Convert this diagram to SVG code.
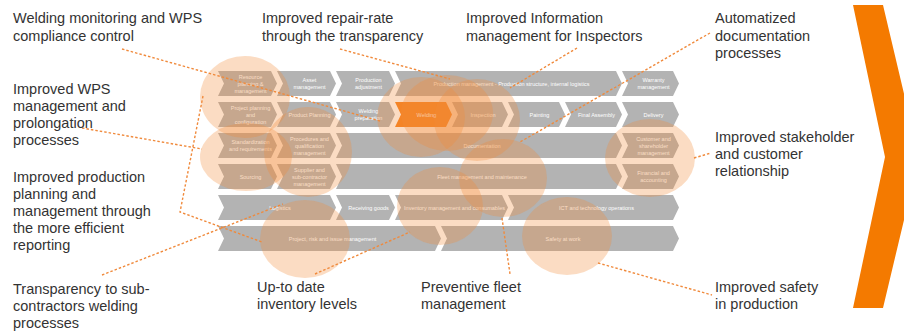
<svg xmlns="http://www.w3.org/2000/svg" width="904" height="333" viewBox="0 0 904 333">
<style>
.ch{fill:#B3B3B3}
.chw{fill:#F5821F}
.ct{font-family:"Liberation Sans",Arial,sans-serif;font-size:5.5px;fill:#FFFFFF;text-anchor:middle}
.hl{fill:#F28C38;fill-opacity:0.3}
.cn{fill:none;stroke:#F08A3C;stroke-width:1.4;stroke-dasharray:2.5 2}
.lb{font-family:"Liberation Sans",Arial,sans-serif;font-size:14.5px;fill:#333333}
</style>
<rect width="904" height="333" fill="#FFFFFF"/>

<g id="chevrons">
  <!-- Row 1 -->
  <g id="resource-planning"><path class="ch" d="M218,71 L271,71 L277,83.5 L271,96 L218,96 L224,83.5Z"/>
    <text class="ct" x="250.5" y="78.5">Resource<tspan x="250.5" dy="7">planning &amp;</tspan><tspan x="250.5" dy="7">management</tspan></text></g>
  <g id="asset-management"><path class="ch" d="M277,71 L330,71 L336,83.5 L330,96 L277,96 L283,83.5Z"/>
    <text class="ct" x="309.5" y="82">Asset<tspan x="309.5" dy="7">management</tspan></text></g>
  <g id="production-adjustment"><path class="ch" d="M336,71 L389,71 L395,83.5 L389,96 L336,96 L342,83.5Z"/>
    <text class="ct" x="368.5" y="82">Production<tspan x="368.5" dy="7">adjustment</tspan></text></g>
  <g id="production-management"><path class="ch" d="M395,71 L616,71 L622,83.5 L616,96 L395,96 L401,83.5Z"/>
    <text class="ct" x="511.5" y="85.5">Production management - Production structure, internal logistics</text></g>
  <g id="warranty-management"><path class="ch" d="M622,71 L673,71 L679,83.5 L673,96 L622,96 L628,83.5Z"/>
    <text class="ct" x="653.5" y="82">Warranty<tspan x="653.5" dy="7">management</tspan></text></g>
  <!-- Row 2 -->
  <g id="project-planning"><path class="ch" d="M218,102 L271,102 L277,114.5 L271,127 L218,127 L224,114.5Z"/>
    <text class="ct" x="250.5" y="109.5">Project planning<tspan x="250.5" dy="7">and</tspan><tspan x="250.5" dy="7">configuration</tspan></text></g>
  <g id="product-planning"><path class="ch" d="M277,102 L330,102 L336,114.5 L330,127 L277,127 L283,114.5Z"/>
    <text class="ct" x="309.5" y="116.5">Product Planning</text></g>
  <g id="welding-preparation"><path class="ch" d="M336,102 L389,102 L395,114.5 L389,127 L336,127 L342,114.5Z"/>
    <text class="ct" x="368.5" y="113">Welding<tspan x="368.5" dy="7">preparation</tspan></text></g>
  <g id="welding"><path class="chw" d="M395,102 L446,102 L452,114.5 L446,127 L395,127 L401,114.5Z"/>
    <text class="ct" x="426.5" y="116.5">Welding</text></g>
  <g id="inspection"><path class="ch" d="M452,102 L502,102 L508,114.5 L502,127 L452,127 L458,114.5Z"/>
    <text class="ct" x="483" y="116.5">Inspection</text></g>
  <g id="painting"><path class="ch" d="M508,102 L559,102 L565,114.5 L559,127 L508,127 L514,114.5Z"/>
    <text class="ct" x="539.5" y="116.5">Painting</text></g>
  <g id="final-assembly"><path class="ch" d="M565,102 L616,102 L622,114.5 L616,127 L565,127 L571,114.5Z"/>
    <text class="ct" x="596.5" y="116.5">Final Assembly</text></g>
  <g id="delivery"><path class="ch" d="M622,102 L673,102 L679,114.5 L673,127 L622,127 L628,114.5Z"/>
    <text class="ct" x="653.5" y="116.5">Delivery</text></g>
  <!-- Row 3 -->
  <g id="standardization"><path class="ch" d="M218,133 L271,133 L277,145.5 L271,158 L218,158 L224,145.5Z"/>
    <text class="ct" x="250.5" y="144">Standardization<tspan x="250.5" dy="7">and requirements</tspan></text></g>
  <g id="procedures"><path class="ch" d="M277,133 L330,133 L336,145.5 L330,158 L277,158 L283,145.5Z"/>
    <text class="ct" x="309.5" y="140.5">Procedures and<tspan x="309.5" dy="7">qualification</tspan><tspan x="309.5" dy="7">management</tspan></text></g>
  <g id="documentation"><path class="ch" d="M336,133 L616,133 L622,145.5 L616,158 L336,158 L342,145.5Z"/>
    <text class="ct" x="482" y="147.5">Documentation</text></g>
  <g id="customer-management"><path class="ch" d="M622,133 L673,133 L679,145.5 L673,158 L622,158 L628,145.5Z"/>
    <text class="ct" x="653.5" y="140.5">Customer and<tspan x="653.5" dy="7">shareholder</tspan><tspan x="653.5" dy="7">management</tspan></text></g>
  <!-- Row 4 -->
  <g id="sourcing"><path class="ch" d="M218,164 L271,164 L277,176.5 L271,189 L218,189 L224,176.5Z"/>
    <text class="ct" x="250.5" y="178.5">Sourcing</text></g>
  <g id="supplier-management"><path class="ch" d="M277,164 L330,164 L336,176.5 L330,189 L277,189 L283,176.5Z"/>
    <text class="ct" x="309.5" y="171.5">Supplier and<tspan x="309.5" dy="7">sub-contractor</tspan><tspan x="309.5" dy="7">management</tspan></text></g>
  <g id="fleet-management"><path class="ch" d="M336,164 L616,164 L622,176.5 L616,189 L336,189 L342,176.5Z"/>
    <text class="ct" x="482" y="178.5">Fleet management and maintenance</text></g>
  <g id="financial-accounting"><path class="ch" d="M622,164 L673,164 L679,176.5 L673,189 L622,189 L628,176.5Z"/>
    <text class="ct" x="653.5" y="175">Financial and<tspan x="653.5" dy="7">accounting</tspan></text></g>
  <!-- Row 5 -->
  <g id="logistics"><path class="ch" d="M218,195 L330,195 L336,207.5 L330,220 L218,220 L224,207.5Z"/>
    <text class="ct" x="280" y="209.5">Logistics</text></g>
  <g id="receiving-goods"><path class="ch" d="M336,195 L389,195 L395,207.5 L389,220 L336,220 L342,207.5Z"/>
    <text class="ct" x="368.5" y="209.5">Receiving goods</text></g>
  <g id="inventory-management"><path class="ch" d="M395,195 L502,195 L508,207.5 L502,220 L395,220 L401,207.5Z"/>
    <text class="ct" x="454.5" y="209.5">Inventory management and consumables</text></g>
  <g id="ict-operations"><path class="ch" d="M508,195 L673,195 L679,207.5 L673,220 L508,220 L514,207.5Z"/>
    <text class="ct" x="596.5" y="209.5">ICT and technology operations</text></g>
  <!-- Row 6 -->
  <g id="project-risk"><path class="ch" d="M218,226 L435,226 L441,238.5 L435,251 L218,251 L224,238.5Z"/>
    <text class="ct" x="332.5" y="240.5">Project, risk and issue management</text></g>
  <g id="safety-at-work"><path class="ch" d="M441,226 L673,226 L679,238.5 L673,251 L441,251 L447,238.5Z"/>
    <text class="ct" x="563" y="240.5">Safety at work</text></g>
</g>

<g id="highlights">
  <ellipse class="hl" cx="245" cy="97" rx="45" ry="41"/>
  <ellipse class="hl" cx="246" cy="157" rx="46" ry="34"/>
  <ellipse class="hl" cx="308" cy="152" rx="44" ry="45"/>
  <ellipse class="hl" cx="305" cy="239" rx="45" ry="39"/>
  <ellipse class="hl" cx="421" cy="117" rx="44" ry="40"/>
  <ellipse class="hl" cx="447" cy="113" rx="46" ry="38"/>
  <ellipse class="hl" cx="477" cy="120" rx="43" ry="41"/>
  <ellipse class="hl" cx="503" cy="178" rx="44" ry="39"/>
  <ellipse class="hl" cx="440" cy="206" rx="43" ry="39"/>
  <ellipse class="hl" cx="650" cy="158" rx="45" ry="39"/>
  <ellipse class="hl" cx="567" cy="236" rx="45" ry="39"/>
</g>

<g id="connectors">
  <polyline class="cn" points="122,49 380,121"/>
  <polyline class="cn" points="340,49 450,79"/>
  <polyline class="cn" points="577,48 510,88"/>
  <polyline class="cn" points="710,33 520,142"/>
  <polyline class="cn" points="82,128 202,149"/>
  <polyline class="cn" points="203,96 180,212 262,242"/>
  <polyline class="cn" points="102,275 283,204"/>
  <polyline class="cn" points="315,274 410,232"/>
  <polyline class="cn" points="502,218 510,274"/>
  <polyline class="cn" points="598,263 712,295"/>
  <polyline class="cn" points="694,158 711,153"/>
</g>

<g id="label-welding-monitoring"><text class="lb" x="13" y="23">Welding monitoring and WPS<tspan x="13" dy="18">compliance control</tspan></text></g>
<g id="label-repair-rate"><text class="lb" x="262" y="23">Improved repair-rate<tspan x="262" dy="18">through the transparency</tspan></text></g>
<g id="label-information"><text class="lb" x="466" y="23">Improved Information<tspan x="466" dy="18">management for Inspectors</tspan></text></g>
<g id="label-documentation"><text class="lb" x="715" y="23">Automatized<tspan x="715" dy="17.5">documentation</tspan><tspan x="715" dy="17.5">processes</tspan></text></g>
<g id="label-wps"><text class="lb" x="13" y="94">Improved WPS<tspan x="13" dy="17">management and</tspan><tspan x="13" dy="17">prolongation</tspan><tspan x="13" dy="17">processes</tspan></text></g>
<g id="label-production-planning"><text class="lb" x="13" y="182">Improved production<tspan x="13" dy="17">planning and</tspan><tspan x="13" dy="17">management through</tspan><tspan x="13" dy="17">the more efficient</tspan><tspan x="13" dy="17">reporting</tspan></text></g>
<g id="label-subcontractors"><text class="lb" x="13" y="294">Transparency to sub-<tspan x="13" dy="17">contractors welding</tspan><tspan x="13" dy="17">processes</tspan></text></g>
<g id="label-inventory"><text class="lb" x="257" y="292">Up-to date<tspan x="257" dy="17">inventory levels</tspan></text></g>
<g id="label-fleet"><text class="lb" x="421" y="292">Preventive fleet<tspan x="421" dy="17">management</tspan></text></g>
<g id="label-safety"><text class="lb" x="715" y="292">Improved safety<tspan x="715" dy="17">in production</tspan></text></g>
<g id="label-stakeholder"><text class="lb" x="715" y="142">Improved stakeholder<tspan x="715" dy="17">and customer</tspan><tspan x="715" dy="17">relationship</tspan></text></g>

<g id="process-arrow"><polygon points="853,5 883,5 919,157 883,308 853,308 885,157" fill="#F47A00"/></g>
</svg>
